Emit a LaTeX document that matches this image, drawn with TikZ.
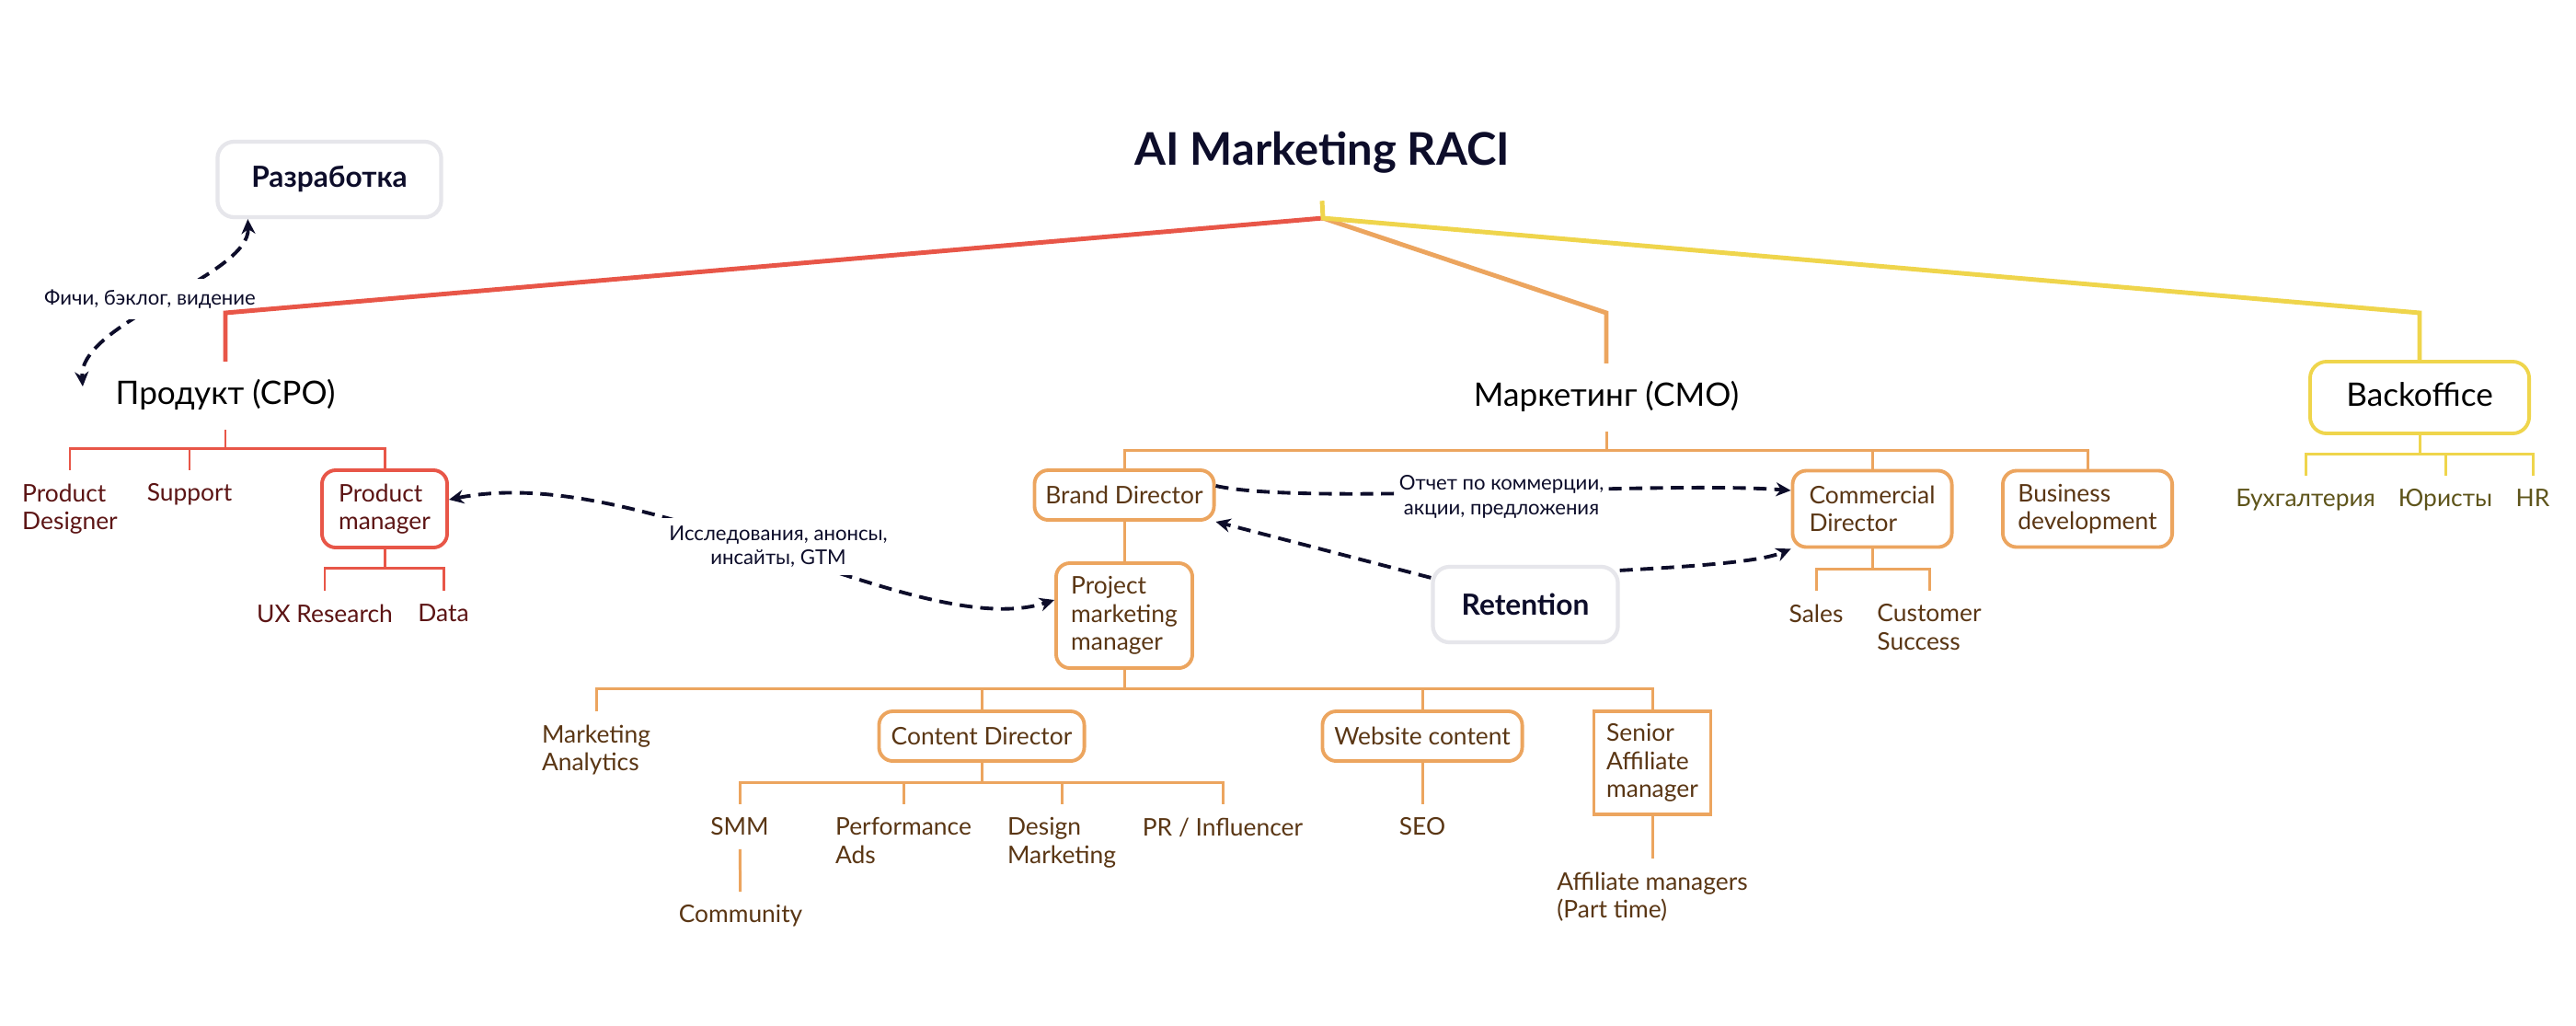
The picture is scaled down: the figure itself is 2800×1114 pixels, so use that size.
\documentclass[tikz,border=0pt]{standalone}
\usepackage{fontspec}
\setmainfont{Lato}
\usetikzlibrary{arrows.meta}
\definecolor{ink}{RGB}{13,13,42}
\definecolor{redb}{RGB}{232,86,72}
\definecolor{orab}{RGB}{236,165,95}
\definecolor{yelb}{RGB}{239,213,76}
\definecolor{greyb}{RGB}{230,230,235}
\definecolor{redt}{RGB}{92,20,20}
\definecolor{orat}{RGB}{90,54,20}
\definecolor{yelt}{RGB}{94,84,26}
\begin{document}
\begin{tikzpicture}[x=0.01cm, y=-0.01cm]
    \tikzstyle{branch} = [line width=1.4pt]
    \tikzstyle{twig} = [line width=0.85pt]
    \tikzstyle{head} = [font=\fontsize{10}{12}\selectfont, text height=2.6mm, text depth=0.7mm, inner sep=2mm]
    \tikzstyle{unit} = [rectangle, draw, rounded corners=1.5mm, line width=1.1pt, fill=white, align=left, font=\fontsize{7.5}{8.6}\selectfont]
    \tikzstyle{role} = [anchor=north, align=left, inner sep=1.4mm, font=\fontsize{7.5}{8.6}\selectfont]
    \tikzstyle{team} = [rectangle, rounded corners=1.8mm, draw=greyb, line width=1.2pt, fill=white, text=ink, font=\fontsize{9}{11}\selectfont\bfseries]
    \tikzstyle{flow} = [draw=ink, line width=1.1pt, dash pattern=on 4pt off 2.4pt, >={Stealth[length=1.6mm,width=1.5mm]}]
    \tikzstyle{note} = [fill=white, text=ink, align=center, inner sep=0.8mm, font=\fontsize{6.3}{7.6}\selectfont]
    \path [use as bounding box, fill=white] (0,0) rectangle (2800,1114);

    \node [font=\fontsize{13.9}{16}\selectfont\bfseries, text=ink, text height=3.6mm, text depth=1.1mm, inner sep=2.7mm] (title) at (1437,167) {AI Marketing RACI};
    \coordinate (hub) at (1438,237);
    \node [team, minimum width=2.43cm, minimum height=0.82cm] (dev) at (358,195) {Разработка};
    \node [head] (cpo) at (245,430) {Продукт (CPO)};
    \node [head] (cmo) at (1746,432) {Маркетинг (CMO)};
    \node [head, rectangle, draw=yelb, rounded corners=1.8mm, line width=1.1pt, minimum width=2.38cm, minimum height=0.78cm] (boff) at (2630,432) {Backoffice};

    \node [role, text=redt] (pd) at (76,511) {Product\\Designer};
    \node [role, text=redt] (sup) at (206,511) {Support};
    \node [unit, draw=redb, text=redt, minimum width=1.36cm, minimum height=0.84cm] (pm) at (418,553) {Product\\manager};
    \node [role, text=redt] (ux) at (353,642) {UX Research};
    \node [role, text=redt] (data) at (482,642) {Data};

    \node [unit, draw=orab, text=orat, minimum width=1.95cm, minimum height=0.54cm] (brand) at (1222,538) {Brand Director};
    \node [unit, draw=orab, text=orat, minimum width=1.73cm, minimum height=0.83cm] (comm) at (2035,553) {Commercial\\Director};
    \node [unit, draw=orab, text=orat, minimum width=1.84cm, minimum height=0.83cm] (biz) at (2269,553) {Business\\development};
    \node [role, text=orat] (sales) at (1974,642) {Sales};
    \node [role, text=orat] (cs) at (2097,642) {Customer\\Success};
    \node [unit, draw=orab, text=orat, minimum width=1.48cm, minimum height=1.14cm] (pmm) at (1222,669) {Project\\marketing\\manager};
    \node [role, text=orat] (ma) at (648,773) {Marketing\\Analytics};
    \node [unit, draw=orab, text=orat, minimum width=2.23cm, minimum height=0.54cm] (cd) at (1067,800) {Content Director};
    \node [unit, draw=orab, text=orat, minimum width=2.17cm, minimum height=0.54cm] (web) at (1546,800) {Website content};
    \node [unit, draw=orab, text=orat, sharp corners, minimum width=1.27cm, minimum height=1.12cm] (saff) at (1796,829) {Senior\\Affiliate\\manager};
    \node [role, text=orat] (smm) at (804,874) {SMM};
    \node [role, text=orat] (perf) at (982,874) {Performance\\Ads};
    \node [role, text=orat] (dm) at (1154,874) {Design\\Marketing};
    \node [role, text=orat] (pr) at (1329,874) {PR / Influencer};
    \node [role, text=orat] (comty) at (805,969) {Community};
    \node [role, text=orat] (seo) at (1546,874) {SEO};
    \node [role, text=orat] (aff) at (1796,933) {Affiliate managers\\(Part time)};
    \node [team, minimum width=2.01cm, minimum height=0.82cm] (ret) at (1658,657) {Retention};

    \node [role, text=yelt] (buh) at (2506,517) {Бухгалтерия};
    \node [role, text=yelt] (law) at (2658,517) {Юристы};
    \node [role, text=yelt] (hr) at (2753,517) {HR};

    \foreach \n in {pd,sup,pm} \draw [twig, redb] (cpo.south) -- ++(0,20) -| (\n.north);
    \foreach \n in {ux,data} \draw [twig, redb] (pm.south) -- ++(0,21) -| (\n.north);
    \foreach \n in {brand,comm,biz} \draw [twig, orab] (cmo.south) -- ++(0,20) -| (\n.north);
    \foreach \n in {sales,cs} \draw [twig, orab] (comm.south) -- ++(0,22) -| (\n.north);
    \draw [twig, orab] (brand) -- (pmm);
    \foreach \n in {ma,cd,web,saff} \draw [twig, orab] (pmm.south) -- ++(0,21) -| (\n.north);
    \foreach \n in {smm,perf,dm,pr} \draw [twig, orab] (cd.south) -- ++(0,22) -| (\n.north);
    \draw [twig, orab] (smm) -- (comty);
    \draw [twig, orab] (web) -- (seo);
    \draw [twig, orab] (saff) -- (aff);
    \foreach \n in {buh,law,hr} \draw [twig, yelb] (boff.south) -- ++(0,21) -| (\n.north);

    \draw [flow, <->] ([xshift=3.5mm]dev.south west) .. controls (272,300) and (85,350) .. ([xshift=-1.5mm, yshift=1mm]cpo.west);
    \draw [flow, <->] ([yshift=1mm]pm.east) .. controls (700,500) and (1000,700) .. ([yshift=1.7mm]pmm.west);
    \draw [flow, ->] ([yshift=1mm]brand.east) .. controls (1420,550) and (1800,522) .. ([yshift=2mm]comm.west);
    \draw [flow, ->] ([yshift=-1.4mm]ret.north west) -- (brand.south east);
    \draw [flow, ->] ([yshift=-0.6mm]ret.north east) .. controls (1850,615) and (1915,610) .. (comm.south west);

    \node [note, inner ysep=1.2mm] (feat) at (163,325) {Фичи, бэклог, видение};
    \node [note] (res) at (846,594) {Исследования, анонсы,\\инсайты, GTM};
    \node [note, inner xsep=0.3mm] (rep) at (1632,540) {Отчет по коммерции,\\акции, предложения};

    \draw [branch, redb] (hub) -- (245,340) -- (cpo.north);
    \draw [branch, orab] (hub) -- (1746,340) -- (cmo.north);
    \draw [branch, yelb] (title.south) -- (hub) -- (2630,340) -- (boff.north);
\end{tikzpicture}
\end{document}
